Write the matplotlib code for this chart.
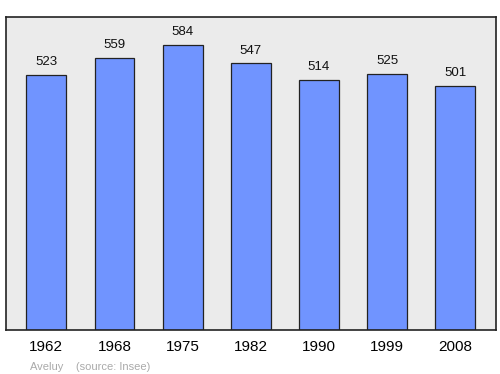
import matplotlib.pyplot as plt
import numpy as np

plt.rcParams['font.family'] = ['Liberation Sans', 'DejaVu Sans']

years = ['1962', '1968', '1975', '1982', '1990', '1999', '2008']
population = [523, 559, 584, 547, 514, 525, 501]

fig = plt.figure(figsize=(5, 3.74), dpi=100)
ax = fig.add_axes([0.011, 0.1176, 0.981, 0.837])
ax.set_facecolor('#ebebeb')

x = np.arange(len(years))
ax.bar(x, population, width=0.585, color='#7094ff', edgecolor='#222222', linewidth=0.9)

for xi, v in zip(x, population):
    ax.annotate(str(v), (xi, v), xytext=(0, 5), textcoords='offset points',
                ha='center', va='bottom', fontsize=9.5, color='#111111')

ax.set_xlim(-0.6, 6.6)
ax.set_ylim(0, max(population) * 1.1)
ax.set_xticks(x)
ax.set_xticklabels(years, fontsize=11)
ax.set_yticks([])
ax.tick_params(axis='x', length=0, pad=7)
for s in ax.spines.values():
    s.set_color('#222222')
    s.set_linewidth(1.2)

fig.text(0.06, 0.012, 'Aveluy    (source: Insee)', fontsize=8, color='#aaaaaa')

fig.savefig('out.png', dpi=100)
